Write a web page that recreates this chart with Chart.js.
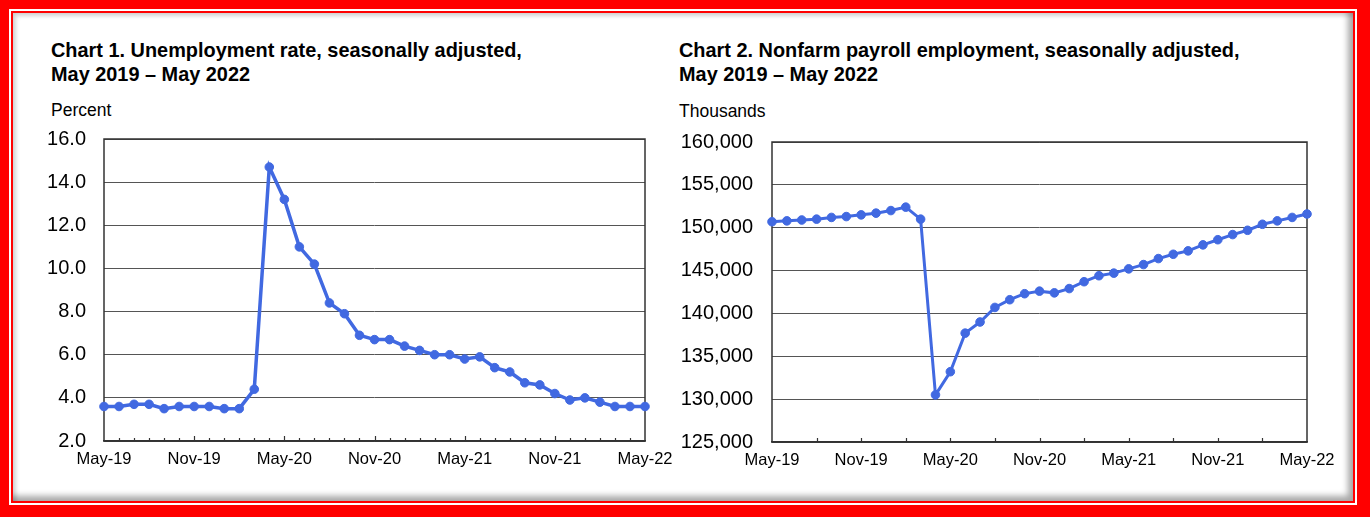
<!DOCTYPE html>
<html>
<head>
<meta charset="utf-8">
<script src="https://cdn.jsdelivr.net/npm/chart.js@4"></script>
<style>
  body { margin: 0; background: #fff; font-family: "Liberation Sans", Arial, sans-serif; }
  #frame { position: absolute; left: 0; top: 0; width: 1370px; height: 517px; background: #ff0000; overflow: hidden; }
  #line { position: absolute; left: 9px; top: 9px; right: 13px; bottom: 12px; border: 2px solid #fff; background: #ff0000; }
  #panel { position: absolute; left: 2px; top: 2px; right: 2px; bottom: 2px; background: #fff;
           box-shadow: inset -5px -5px 6px rgba(0,0,0,0.35), inset 3px 3px 4px rgba(0,0,0,0.18); }
  .title { position: absolute; font-weight: bold; font-size: 19.9px; line-height: 24.4px; color: #000; white-space: nowrap; }
  .unit { position: absolute; font-size: 17.5px; line-height: 20px; color: #000; }
  canvas { position: absolute; }
</style>
</head>
<body>
<div id="frame"><div id="line"><div id="panel"></div></div></div>

<div class="title" style="left:51px; top:38px;">Chart 1. Unemployment rate, seasonally adjusted,<br>May 2019 – May 2022</div>
<div class="unit" style="left:51px; top:100px;">Percent</div>
<div class="title" style="left:679px; top:38px;">Chart 2. Nonfarm payroll employment, seasonally adjusted,<br>May 2019 – May 2022</div>
<div class="unit" style="left:679px; top:101px;">Thousands</div>

<div style="position:absolute; left:40px; top:119px; width:650px; height:362px;"><canvas id="c1"></canvas></div>
<div style="position:absolute; left:665px; top:122px; width:682px; height:360px;"><canvas id="c2"></canvas></div>

<script>
// 月ラベル
const months = [
  'May-19','Jun-19','Jul-19','Aug-19','Sep-19','Oct-19','Nov-19','Dec-19',
  'Jan-20','Feb-20','Mar-20','Apr-20','May-20','Jun-20','Jul-20','Aug-20','Sep-20','Oct-20','Nov-20','Dec-20',
  'Jan-21','Feb-21','Mar-21','Apr-21','May-21','Jun-21','Jul-21','Aug-21','Sep-21','Oct-21','Nov-21','Dec-21',
  'Jan-22','Feb-22','Mar-22','Apr-22','May-22'
]

// 失業率 (%)
const unemployment = [
  3.6, 3.6, 3.7, 3.7, 3.5, 3.6, 3.6, 3.6,
  3.5, 3.5, 4.4, 14.7, 13.2, 11.0, 10.2, 8.4, 7.9, 6.9, 6.7, 6.7,
  6.4, 6.2, 6.0, 6.0, 5.8, 5.9, 5.4, 5.2, 4.7, 4.6, 4.2, 3.9,
  4.0, 3.8, 3.6, 3.6, 3.6
]

// 非農業部門雇用者数 (千人)
const payroll = [
  150700, 150800, 150900, 151000, 151200, 151300, 151500, 151700,
  152000, 152400, 151000, 130500, 133200, 137700, 139000, 140700, 141600, 142300, 142600, 142400,
  142900, 143700, 144400, 144700, 145200, 145700, 146400, 146900, 147300, 148000, 148600, 149200,
  149700, 150400, 150800, 151200, 151600
]

const unemploymentTicks = { min: 2, max: 16, step: 2 }
const payrollTicks = { min: 125000, max: 160000, step: 5000 }

const lineColor = '#4169E1'

Chart.defaults.font.family = '"Liberation Sans", Arial, sans-serif'
Chart.defaults.color = '#000'

// 枠線と内側の目盛り
const plotFrame = {
    id: 'plotFrame',
    beforeDatasetsDraw(chart, args, opts){
        const {ctx, chartArea} = chart
        const x = chart.scales.x
        ctx.save()
        ctx.strokeStyle = '#333'
        ctx.lineWidth = 1.5
        ctx.strokeRect(chartArea.left, chartArea.top, chartArea.right-chartArea.left, chartArea.bottom-chartArea.top)
        ctx.lineWidth = 1.2
        ctx.beginPath()
        for(let i=0; i<months.length; i++){
            if(i % opts.every != 0) continue
            if(i == 0 || i == months.length-1) continue
            const px = Math.round(x.getPixelForValue(i)) + 0.5
            let len = (i % opts.major == 0) ? opts.majorLen : opts.minorLen
            ctx.moveTo(px, chartArea.bottom)
            ctx.lineTo(px, chartArea.bottom - len)
        }
        ctx.stroke()
        ctx.restore()
    }
}

function drawChart(canvas, values, yt, yWidth, yPad, labelFmt, frameOpts, padRight, lineW){
    return new Chart(canvas, {
        type: 'line',
        data: {
            labels: months,
            datasets: [{
                data: values,
                borderColor: lineColor,
                backgroundColor: lineColor,
                borderWidth: lineW,
                pointRadius: 4.3,
                pointBorderWidth: 1,
                pointBackgroundColor: lineColor,
                tension: 0
            }]
        },
        options: {
            responsive: true,
            maintainAspectRatio: false,
            animation: false,
            layout: { padding: { top: 20, right: padRight, left: 0, bottom: 0 } },
            plugins: {
                legend: { display: false },
                tooltip: { enabled: false },
                plotFrame: frameOpts
            },
            scales: {
                x: {
                    offset: false,
                    grid: { drawOnChartArea: false, drawTicks: false },
                    border: { color: '#333', width: 1.5 },
                    ticks: {
                        autoSkip: false,
                        maxRotation: 0,
                        minRotation: 0,
                        padding: 9,
                        font: { size: 16.5 },
                        callback: (v, i) => i % 6 == 0 ? months[i] : ''
                    },
                    afterFit(scale){
                        scale.height = 40
                        scale.paddingLeft = 0
                        scale.paddingRight = 0
                    }
                },
                y: {
                    min: yt.min,
                    max: yt.max,
                    grid: { color: '#555', lineWidth: 1, drawTicks: false },
                    border: { display: false },
                    ticks: {
                        stepSize: yt.step,
                        padding: yPad,
                        font: { size: 20 },
                        callback: labelFmt
                    },
                    afterFit(scale){
                        scale.width = yWidth
                        scale.paddingTop = 0
                        scale.paddingBottom = 0
                    }
                }
            }
        },
        plugins: [plotFrame]
    })
}

drawChart(document.getElementById('c1'), unemployment, unemploymentTicks, 64, 18,
    v => Number(v).toFixed(1), { every: 1, major: 6, majorLen: 5, minorLen: 3 }, 45, 3.5)

drawChart(document.getElementById('c2'), payroll, payrollTicks, 107, 19,
    v => Number(v).toLocaleString('en-US'), { every: 3, major: 3, majorLen: 4, minorLen: 4 }, 40, 3)
</script>
</body>
</html>
